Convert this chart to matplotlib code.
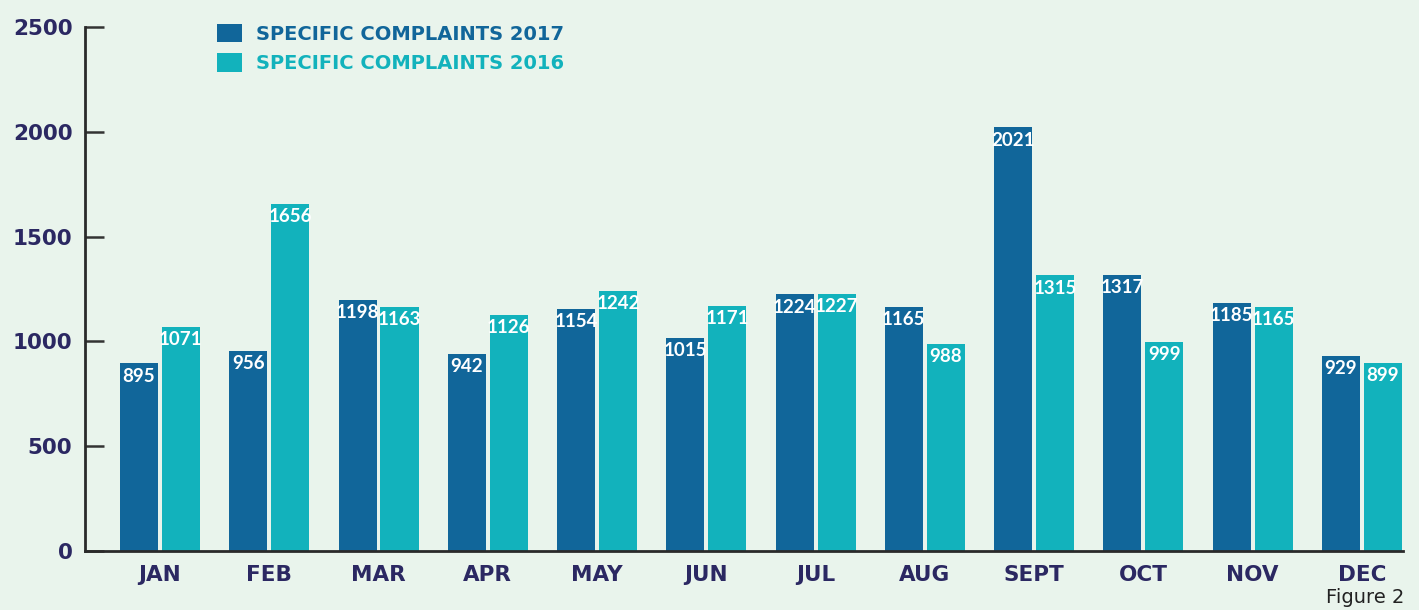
import matplotlib.pyplot as plt
import numpy as np

months = ["JAN", "FEB", "MAR", "APR", "MAY", "JUN", "JUL", "AUG", "SEPT", "OCT", "NOV", "DEC"]
complaints_2017 = [895, 956, 1198, 942, 1154, 1015, 1224, 1165, 2021, 1317, 1185, 929]
complaints_2016 = [1071, 1656, 1163, 1126, 1242, 1171, 1227, 988, 1315, 999, 1165, 899]
y_ticks = [0, 500, 1000, 1500, 2000, 2500]

C2017 = "#11669a"
C2016 = "#12b2bc"
BG = "#e9f4ec"
NAVY = "#2b2862"

plt.rcParams['font.family'] = ['DejaVu Sans']

fig = plt.figure(figsize=(14.19, 6.10), dpi=100, facecolor=BG)
ax = fig.add_axes([0.0599, 0.0967, 0.9288, 0.859])
ax.set_facecolor(BG)

x = np.arange(len(months))
w = 0.348
off = 0.192
b1 = ax.bar(x - off, complaints_2017, w, color=C2017, label="SPECIFIC COMPLAINTS 2017")
b2 = ax.bar(x + off, complaints_2016, w, color=C2016, label="SPECIFIC COMPLAINTS 2016")

for bars, vals in ((b1, complaints_2017), (b2, complaints_2016)):
    for r, v in zip(bars, vals):
        ax.annotate(str(v), (r.get_x() + r.get_width() / 2, v), xytext=(0, -3),
                    textcoords="offset points", ha="center", va="top",
                    color="white", fontsize=13.5, fontweight="bold",
                    family=["Lato", "DejaVu Sans"])

ax.set_xlim(-0.686, 11.375)
ax.set_ylim(0, 2500)
ax.set_yticks(y_ticks)
ax.set_yticklabels([str(t) for t in y_ticks], fontsize=15.5, fontweight="bold", color=NAVY)
ax.tick_params(axis="y", direction="in", length=14, width=1.8, color="#333333", pad=9)
ax.set_xticks(x)
ax.set_xticklabels(months, fontsize=15.5, fontweight="bold", color=NAVY)
ax.tick_params(axis="x", length=0, pad=10)
for s in ("top", "right"):
    ax.spines[s].set_visible(False)
for s in ("left", "bottom"):
    ax.spines[s].set_linewidth(2)
    ax.spines[s].set_color("#2a2a2a")

leg = ax.legend(loc="upper left", bbox_to_anchor=(0.087, 1.04), frameon=False,
                handlelength=1.3, handleheight=1.1, handletextpad=0.7,
                labelspacing=0.5, prop={"size": 14, "weight": "bold"})
for t, c in zip(leg.get_texts(), (C2017, C2016)):
    t.set_color(c)

fig.text(0.99, 0.005, "Figure 2", ha="right", va="bottom", fontsize=14, color="#222222")

fig.savefig("out.png", dpi=100, facecolor=BG)
